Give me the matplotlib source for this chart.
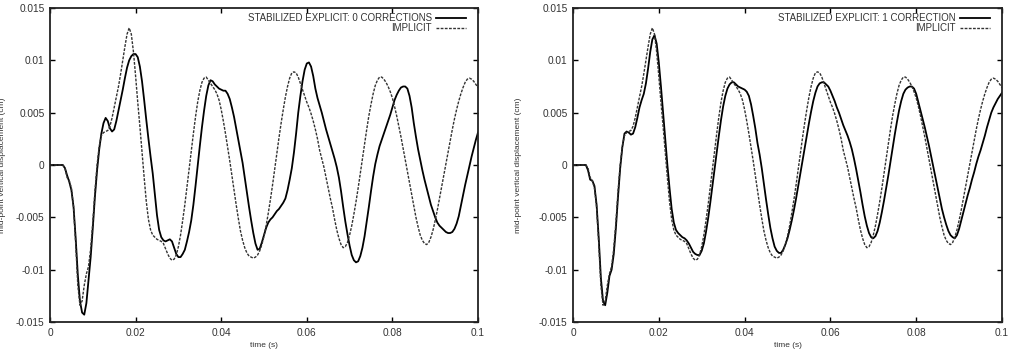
import numpy as np
import matplotlib
matplotlib.use("Agg")
import matplotlib.pyplot as plt

plt.rcParams['font.family'] = ['Liberation Sans', 'DejaVu Sans']

# sampling grid (s), one value every 0.5 ms
time_s = np.linspace(0.0, 0.1, 201)

implicit = [
    0.0, 0.0, 0.0, 0.0, 0.0, 0.0, 0.0, -0.0003, -0.0012, -0.0015,
    -0.0022, -0.0040, -0.0075, -0.0115, -0.0134, -0.0130, -0.0115, -0.0104, -0.0097, -0.0080,
    -0.0055, -0.0025, 0.0000, 0.0018, 0.0028, 0.0031, 0.0032, 0.0033, 0.0037, 0.0045,
    0.0055, 0.0065, 0.0075, 0.0087, 0.0100, 0.0113, 0.0125, 0.0131, 0.0125, 0.0108,
    0.0085, 0.0060, 0.0037, 0.0012, -0.0012, -0.0035, -0.0052, -0.0062, -0.0067, -0.0069,
    -0.0071, -0.0072, -0.0073, -0.0075, -0.0080, -0.0085, -0.0089, -0.0091, -0.0090, -0.0086,
    -0.0078, -0.0067, -0.0053, -0.0038, -0.0021, -0.0004, 0.0013, 0.0030, 0.0046, 0.0060,
    0.0071, 0.0079, 0.0083, 0.0084, 0.0081, 0.0078, 0.0075, 0.0072, 0.0068, 0.0062,
    0.0053, 0.0042, 0.0030, 0.0017, 0.0004, -0.0010, -0.0024, -0.0038, -0.0051, -0.0063,
    -0.0072, -0.0079, -0.0084, -0.0087, -0.0088, -0.0089, -0.0088, -0.0086, -0.0082, -0.0076,
    -0.0068, -0.0058, -0.0046, -0.0033, -0.0019, -0.0004, 0.0011, 0.0026, 0.0040, 0.0053,
    0.0065, 0.0075, 0.0083, 0.0088, 0.0089, 0.0088, 0.0084, 0.0078, 0.0072, 0.0066,
    0.0060, 0.0055, 0.0049, 0.0042, 0.0034, 0.0025, 0.0014, 0.0006, -0.0002, -0.0012,
    -0.0022, -0.0032, -0.0041, -0.0052, -0.0062, -0.0070, -0.0076, -0.0079, -0.0078, -0.0074,
    -0.0067, -0.0058, -0.0047, -0.0035, -0.0022, -0.0008, 0.0006, 0.0020, 0.0034, 0.0047,
    0.0058, 0.0068, 0.0076, 0.0081, 0.0084, 0.0084, 0.0082, 0.0079, 0.0075, 0.0070,
    0.0064, 0.0056, 0.0047, 0.0037, 0.0027, 0.0016, 0.0005, -0.0006, -0.0017, -0.0028,
    -0.0039, -0.0050, -0.0059, -0.0067, -0.0072, -0.0075, -0.0076, -0.0074, -0.0069, -0.0062,
    -0.0053, -0.0043, -0.0032, -0.0021, -0.0010, 0.0001, 0.0012, 0.0023, 0.0034, 0.0044,
    0.0053, 0.0061, 0.0068, 0.0074, 0.0079, 0.0082, 0.0083, 0.0082, 0.0080, 0.0077,
    0.0074,
]

explicit_0corr = [
    0.0, 0.0, 0.0, 0.0, 0.0, 0.0, 0.0, -0.0003, -0.0010, -0.0016,
    -0.0024, -0.0040, -0.0070, -0.0105, -0.0130, -0.0141, -0.0143, -0.0132, -0.0110, -0.0088,
    -0.0060, -0.0030, -0.0005, 0.0015, 0.0030, 0.0040, 0.0045, 0.0042, 0.0035, 0.0032,
    0.0034, 0.0042, 0.0052, 0.0062, 0.0072, 0.0083, 0.0093, 0.0100, 0.0104, 0.0106,
    0.0106, 0.0103, 0.0094, 0.0080, 0.0062, 0.0043, 0.0025, 0.0008, -0.0008, -0.0028,
    -0.0048, -0.0062, -0.0069, -0.0072, -0.0073, -0.0072, -0.0071, -0.0073, -0.0079, -0.0085,
    -0.0088, -0.0088, -0.0085, -0.0081, -0.0073, -0.0064, -0.0053, -0.0038, -0.0020, -0.0001,
    0.0018, 0.0036, 0.0052, 0.0066, 0.0076, 0.0081, 0.0080, 0.0077, 0.0075, 0.0073,
    0.0072, 0.0071, 0.0071, 0.0068, 0.0063, 0.0055, 0.0046, 0.0035, 0.0024, 0.0013,
    0.0002, -0.0012, -0.0026, -0.0040, -0.0053, -0.0065, -0.0075, -0.0081, -0.0080, -0.0074,
    -0.0067, -0.0060, -0.0055, -0.0052, -0.0050, -0.0047, -0.0044, -0.0042, -0.0039, -0.0036,
    -0.0032, -0.0024, -0.0014, -0.0003, 0.0012, 0.0030, 0.0050, 0.0066, 0.0080, 0.0091,
    0.0097, 0.0098, 0.0094, 0.0085, 0.0073, 0.0064, 0.0057, 0.0050, 0.0042, 0.0034,
    0.0027, 0.0020, 0.0013, 0.0006, -0.0002, -0.0012, -0.0025, -0.0040, -0.0054, -0.0066,
    -0.0077, -0.0086, -0.0091, -0.0093, -0.0092, -0.0087, -0.0079, -0.0068, -0.0054, -0.0040,
    -0.0025, -0.0011, 0.0001, 0.0010, 0.0018, 0.0024, 0.0030, 0.0036, 0.0042, 0.0048,
    0.0055, 0.0062, 0.0067, 0.0071, 0.0074, 0.0075, 0.0075, 0.0073, 0.0066, 0.0055,
    0.0040, 0.0027, 0.0015, 0.0005, -0.0005, -0.0014, -0.0022, -0.0030, -0.0038, -0.0044,
    -0.0050, -0.0055, -0.0058, -0.0060, -0.0062, -0.0064, -0.0065, -0.0065, -0.0064, -0.0061,
    -0.0056, -0.0049, -0.0039, -0.0029, -0.0019, -0.0010, -0.0001, 0.0008, 0.0016, 0.0024,
    0.0031,
]

explicit_1corr = [
    0.0, 0.0, 0.0, 0.0, 0.0, 0.0, 0.0, -0.0005, -0.0014, -0.0015,
    -0.0020, -0.0038, -0.0070, -0.0108, -0.0130, -0.0134, -0.0122, -0.0106, -0.0100, -0.0085,
    -0.0060, -0.0030, -0.0003, 0.0017, 0.0030, 0.0032, 0.0031, 0.0029, 0.0030, 0.0036,
    0.0045, 0.0055, 0.0062, 0.0068, 0.0078, 0.0092, 0.0108, 0.0120, 0.0124, 0.0116,
    0.0098, 0.0075, 0.0050, 0.0025, 0.0000, -0.0022, -0.0042, -0.0055, -0.0062, -0.0065,
    -0.0067, -0.0069, -0.0070, -0.0072, -0.0075, -0.0079, -0.0083, -0.0085, -0.0086, -0.0086,
    -0.0082, -0.0075, -0.0064, -0.0051, -0.0036, -0.0020, -0.0004, 0.0012, 0.0028, 0.0043,
    0.0056, 0.0066, 0.0073, 0.0077, 0.0079, 0.0079, 0.0077, 0.0075, 0.0074, 0.0073,
    0.0072, 0.0070, 0.0066, 0.0058, 0.0047, 0.0035, 0.0021, 0.0010, -0.0003, -0.0018,
    -0.0033, -0.0047, -0.0060, -0.0070, -0.0078, -0.0082, -0.0084, -0.0084, -0.0081, -0.0076,
    -0.0070, -0.0062, -0.0053, -0.0043, -0.0032, -0.0020, -0.0008, 0.0004, 0.0016, 0.0028,
    0.0040, 0.0051, 0.0061, 0.0069, 0.0075, 0.0078, 0.0079, 0.0079, 0.0077, 0.0075,
    0.0071, 0.0066, 0.0061, 0.0055, 0.0050, 0.0044, 0.0038, 0.0033, 0.0028, 0.0022,
    0.0015, 0.0006, -0.0004, -0.0015, -0.0026, -0.0038, -0.0049, -0.0058, -0.0065, -0.0069,
    -0.0070, -0.0068, -0.0063, -0.0055, -0.0045, -0.0034, -0.0022, -0.0010, 0.0003, 0.0016,
    0.0029, 0.0041, 0.0052, 0.0061, 0.0068, 0.0072, 0.0074, 0.0075, 0.0075, 0.0073,
    0.0068, 0.0060, 0.0052, 0.0044, 0.0036, 0.0027, 0.0018, 0.0008, -0.0002, -0.0012,
    -0.0022, -0.0032, -0.0042, -0.0050, -0.0057, -0.0063, -0.0067, -0.0069, -0.0070, -0.0067,
    -0.0061, -0.0053, -0.0045, -0.0037, -0.0029, -0.0022, -0.0014, -0.0007, 0.0001, 0.0008,
    0.0014, 0.0021, 0.0028, 0.0036, 0.0043, 0.0050, 0.0055, 0.0059, 0.0063, 0.0066,
    0.0069,
]

x_ticks = [0, 0.02, 0.04, 0.06, 0.08, 0.1]
x_ticklabels = ["0", "0.02", "0.04", "0.06", "0.08", "0.1"]
y_ticks = [-0.015, -0.01, -0.005, 0, 0.005, 0.01, 0.015]
y_ticklabels = ["-0.015", "-0.01", "-0.005", "0", "0.005", "0.01", "0.015"]

W, H = 1014, 351
fig = plt.figure(figsize=(W / 100, H / 100), dpi=100)

panels = [
    (50, 478, explicit_0corr, "STABILIZED EXPLICIT: 0 CORRECTIONS", -44),
    (573, 1002, explicit_1corr, "STABILIZED EXPLICIT: 1 CORRECTION", -51),
]
top_px, bot_px = 8, 322
tick_fs = 7.3
leg_fs = 7.0
lab_fs = 6.0
for (l, r, sol, lab, ylab_off) in panels:
    aw, ah = r - l, bot_px - top_px
    ax = fig.add_axes([l / W, 1 - bot_px / H, aw / W, ah / H])
    ax.plot(time_s, sol, color="black", lw=1.3, label=lab)
    ax.plot(time_s, implicit, color="#333333", lw=1.0, linestyle=(0, (2, 1)), label="IMPLICIT")
    ax.set_xlim(0, 0.1)
    ax.set_ylim(-0.015, 0.015)
    ax.set_xticks(x_ticks)
    ax.set_xticklabels(x_ticklabels)
    ax.set_yticks(y_ticks)
    ax.set_yticklabels(y_ticklabels)
    ax.tick_params(direction="in", length=3.5, width=1.0, top=True, right=True,
                   labelsize=tick_fs, labelcolor="#333333", pad=4)
    for sp in ax.spines.values():
        sp.set_linewidth(1.3)
        sp.set_color("#222222")
    ax.set_xlabel("time (s)", fontsize=lab_fs, color="#333333", labelpad=3)
    ax.set_ylabel("mid-point vertical displacement (cm)", fontsize=lab_fs, color="#333333")
    ax.yaxis.set_label_coords(ylab_off / aw, 0.5)
    leg = ax.legend(loc="upper right", fontsize=leg_fs, frameon=False,
                    markerfirst=False, handlelength=3.1, handletextpad=0.4,
                    borderaxespad=0.0, borderpad=0.0, labelspacing=0.0,
                    bbox_to_anchor=(1 - 12 / aw, 1 - 5 / ah))
    for t in leg.get_texts():
        t.set_color("#333333")

fig.savefig("out.png", dpi=100)
